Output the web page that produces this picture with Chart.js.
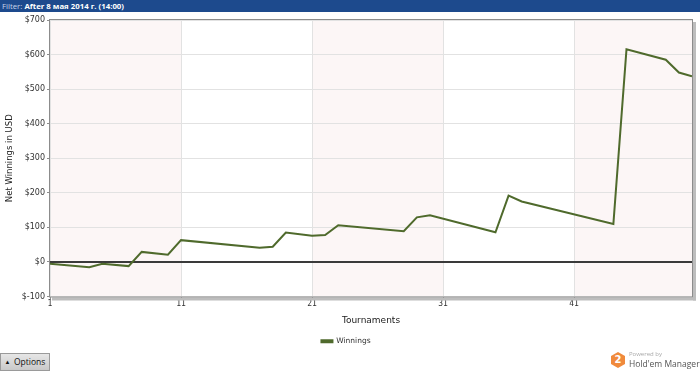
<!DOCTYPE html>
<html><head><meta charset="utf-8">
<script src="https://cdn.jsdelivr.net/npm/chart.js@4.4.1/dist/chart.umd.min.js"></script>
<style>
html,body{margin:0;padding:0;background:#fff;width:700px;height:372px;overflow:hidden;font-family:"Open Sans","DejaVu Sans",sans-serif;}
#bar{position:absolute;left:0;top:0;width:700px;height:12px;background:#1d4a8d;color:#fff;font-family:"Open Sans",sans-serif;font-size:7.8px;line-height:12px;padding-left:2px;box-sizing:border-box;white-space:nowrap;}
#bar .l{color:#c9d5ea;}
#bar b{font-weight:bold;color:#fff;}
#wrap{position:absolute;left:0;top:0;width:700px;height:372px;}
#opt{position:absolute;left:0;top:353px;width:50px;height:18px;box-sizing:border-box;border:1px solid #9a9a9a;background:linear-gradient(#e6e6e6,#c9c9c9);font-family:"Open Sans",sans-serif;font-size:8.5px;line-height:16px;color:#111;}
#opt span.a{display:inline-block;width:13px;text-align:center;font-size:6px;vertical-align:top;}
#logo{position:absolute;left:611px;top:351px;width:89px;height:20px;}
#logo .hex{position:absolute;left:0;top:1px;width:14px;height:16px;background:#f08a3c;clip-path:polygon(50% 0,100% 25%,100% 75%,50% 100%,0 75%,0 25%);color:#fff;font-weight:bold;font-size:10px;text-align:center;line-height:16px;font-family:"DejaVu Sans",sans-serif;}
#logo .p{position:absolute;left:18px;top:-1px;font-size:6px;color:#aaa;}
#logo .h{position:absolute;left:18px;top:7px;font-size:8.5px;color:#555;white-space:nowrap;}
</style></head>
<body>
<div id="wrap"><canvas id="c" width="700" height="372"></canvas></div>
<div id="bar"><span class="l">Filter: </span><b>After 8 мая 2014 г. (14:00)</b></div>
<div id="opt"><span class="a">▲</span>Options</div>
<div id="logo"><div class="hex">2</div><div class="p">Powered by</div><div class="h">Hold'em Manager</div></div>
<script>
const tournaments = [1, 4, 5, 7, 8, 10, 11, 17, 18, 19, 21, 22, 23, 28, 29, 30, 35, 36, 37, 44, 45, 48, 49, 50];
const winnings    = [-5, -15, -5, -12, 29, 21, 63, 41, 44, 85, 76, 78, 106, 89, 129, 135, 86, 192, 175, 110, 615, 585, 548, 537];
const xTicks = [1, 11, 21, 31, 41];
const yTicks = [-100, 0, 100, 200, 300, 400, 500, 600, 700];
const bands = [[1, 11], [21, 31], [41, 50]];
const seriesName = 'Winnings';

const points = tournaments.map((t, i) => ({x: t, y: winnings[i]}));

const bgPlugin = {
  id: 'bg',
  beforeDraw(chart) {
    const {ctx, chartArea: a, scales: {x}} = chart;
    ctx.save();
    ctx.fillStyle = '#fcf6f6';
    bands.forEach(([s, e]) => {
      const x0 = x.getPixelForValue(s), x1 = x.getPixelForValue(e);
      ctx.fillRect(x0, a.top, x1 - x0, a.bottom - a.top);
    });
    ctx.restore();
  },
  afterDraw(chart) {
    const {ctx, chartArea: a} = chart;
    ctx.save();
    ctx.fillStyle = '#bdbdbd';
    ctx.fillRect(a.right + 1, a.top + 2, 3, a.bottom - a.top + 2);
    ctx.fillRect(a.left + 2, a.bottom + 1, a.right - a.left + 2, 3);
    ctx.strokeStyle = '#8c8c8c';
    ctx.lineWidth = 1;
    ctx.strokeRect(a.left - 0.5, a.top - 0.5, a.right - a.left + 1, a.bottom - a.top + 1);
    ctx.restore();
  }
};

const zeroPlugin = {
  id: 'zero',
  beforeDatasetsDraw(chart) {
    const {ctx, chartArea: a, scales: {y}} = chart;
    const py = Math.round(y.getPixelForValue(0));
    ctx.save();
    ctx.strokeStyle = '#3a3a3a';
    ctx.lineWidth = 2;
    ctx.beginPath(); ctx.moveTo(a.left, py); ctx.lineTo(a.right, py); ctx.stroke();
    ctx.restore();
  }
};

new Chart(document.getElementById('c'), {
  type: 'line',
  data: {datasets: [{label: seriesName, data: points, borderColor: '#4f6a2c', backgroundColor: '#4f6a2c', borderWidth: 2, pointRadius: 0, tension: 0, fill: false}]},
  options: {
    responsive: false, animation: false, devicePixelRatio: 1,
    layout: {padding: {top: 20, right: 8, bottom: 17, left: 0}},
    plugins: {
      legend: {position: 'bottom', labels: {boxWidth: 11, boxHeight: 2, color: '#333', font: {size: 7.5, family: 'DejaVu Sans'}, padding: 11}},
      tooltip: {enabled: false}
    },
    scales: {
      x: {type: 'linear', min: 1, max: 50,
        afterBuildTicks(s) { s.ticks = xTicks.map(v => ({value: v})); },
        afterFit(s) { s.height = 30; },
        grid: {color: '#e2e2e2', drawTicks: true, tickLength: 3, tickColor: '#8c8c8c'},
        border: {display: false},
        ticks: {color: '#333', font: {size: 8, family: 'DejaVu Sans Mono'}, padding: 0, maxRotation: 0},
        title: {display: true, text: 'Tournaments', color: '#222', font: {size: 9, family: 'DejaVu Sans'}, padding: {top: 4, bottom: 0}}
      },
      y: {min: -100, max: 700,
        afterBuildTicks(s) { s.ticks = yTicks.map(v => ({value: v})); },
        afterFit(s) { s.width = 50; },
        grid: {color: '#e2e2e2', tickLength: 3, tickColor: '#8c8c8c'},
        border: {display: false},
        ticks: {color: '#333', font: {size: 8, family: 'DejaVu Sans'}, padding: 2, callback: v => '$' + v},
        title: {display: true, text: 'Net Winnings in USD', color: '#222', font: {size: 8.5, family: 'DejaVu Sans'}, padding: {top: 5, bottom: 4}}
      }
    }
  },
  plugins: [bgPlugin, zeroPlugin]
});
</script>
</body></html>
